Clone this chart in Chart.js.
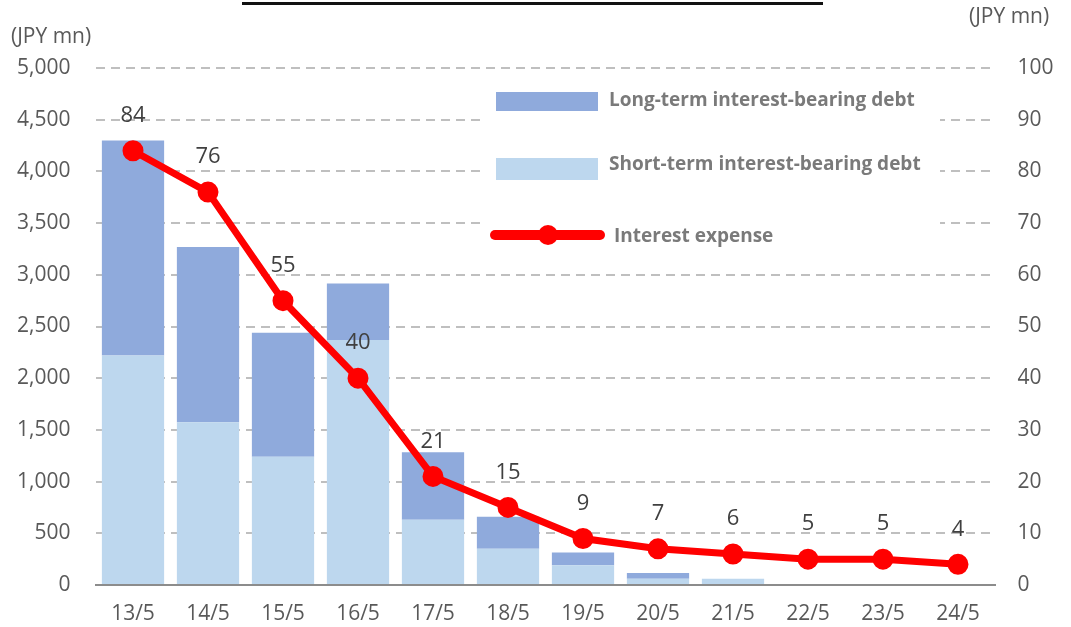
<!DOCTYPE html>
<html>
<head>
<meta charset="utf-8">
<script src="https://cdn.jsdelivr.net/npm/chart.js@4/dist/chart.umd.min.js"></script>
<style>
  body { margin: 0; background: #fff; }
  #wrap { position: relative; width: 1071px; height: 627px; }
  #titleLine { position: absolute; left: 242px; top: 2px; width: 581px; height: 3px; background: #111; }
</style>
</head>
<body>
<div id="wrap">
  <canvas id="debtChart" width="1071" height="627"></canvas>
  <div id="titleLine"></div>
</div>
<script>
// Data
const periods = ['13/5', '14/5', '15/5', '16/5', '17/5', '18/5', '19/5', '20/5', '21/5', '22/5', '23/5', '24/5'];
const longTermDebt = [2080, 1695, 1200, 545, 655, 310, 125, 55, 0, 0, 0, 0];
const shortTermDebt = [2220, 1575, 1240, 2370, 630, 350, 190, 60, 60, 0, 0, 0];
const interestExpense = [84, 76, 55, 40, 21, 15, 9, 7, 6, 5, 5, 4];
const leftTicks = [0, 500, 1000, 1500, 2000, 2500, 3000, 3500, 4000, 4500, 5000];
const rightTicks = [0, 10, 20, 30, 40, 50, 60, 70, 80, 90, 100];
const unitLabel = '(JPY mn)';

const textGray = '#595959';
const fontFamily = '"Open Sans", "DejaVu Sans", sans-serif';

// labels above the line points
const pointLabels = {
    id: 'pointLabels',
    afterDatasetsDraw(chart) {
        const ctx = chart.ctx;
        const meta = chart.getDatasetMeta(2);
        ctx.save();
        ctx.font = '22px ' + fontFamily;
        ctx.fillStyle = '#404040';
        ctx.textAlign = 'center';
        ctx.textBaseline = 'middle';
        meta.data.forEach(function(pt, i) {
            ctx.fillText(String(interestExpense[i]), pt.x, pt.y - 35);
        });
        ctx.restore();
    }
};

// legend box inside the plot + unit labels
const customLegend = {
    id: 'customLegend',
    afterDraw(chart) {
        const ctx = chart.ctx;
        ctx.save();
        ctx.fillStyle = '#ffffff';
        ctx.fillRect(482, 76, 458, 190);

        ctx.fillStyle = '#8faadc';
        ctx.fillRect(496, 92, 102, 19);
        ctx.fillStyle = '#bdd7ee';
        ctx.fillRect(496, 158, 102, 22);

        ctx.strokeStyle = '#ff0000';
        ctx.lineWidth = 10;
        ctx.lineCap = 'round';
        ctx.beginPath();
        ctx.moveTo(495, 235);
        ctx.lineTo(600, 235);
        ctx.stroke();
        ctx.fillStyle = '#ff0000';
        ctx.beginPath();
        ctx.arc(548, 235, 10, 0, Math.PI * 2);
        ctx.fill();

        ctx.font = 'bold 19px ' + fontFamily;
        ctx.fillStyle = '#7a7a7a';
        ctx.textAlign = 'left';
        ctx.textBaseline = 'middle';
        ctx.fillText('Long-term interest-bearing debt', 609, 101);
        ctx.fillText('Short-term interest-bearing debt', 609, 165);
        ctx.fillText('Interest expense', 614, 237);

        ctx.font = '21px ' + fontFamily;
        ctx.fillStyle = textGray;
        ctx.textAlign = 'left';
        ctx.fillText(unitLabel, 11, 37);
        ctx.fillText(unitLabel, 969, 17);
        ctx.restore();
    }
};

const ctxDebt = document.getElementById('debtChart').getContext('2d');
const debtChart = new Chart(ctxDebt, {
    type: 'bar',
    data: {
        labels: periods,
        datasets: [{
            label: 'Short-term interest-bearing debt',
            data: shortTermDebt,
            backgroundColor: '#bdd7ee',
            stack: 'debt',
            yAxisID: 'y',
            order: 2
        }, {
            label: 'Long-term interest-bearing debt',
            data: longTermDebt,
            backgroundColor: '#8faadc',
            stack: 'debt',
            yAxisID: 'y',
            order: 2
        }, {
            label: 'Interest expense',
            type: 'line',
            data: interestExpense,
            yAxisID: 'y1',
            borderColor: '#ff0000',
            backgroundColor: '#ff0000',
            pointBackgroundColor: '#ff0000',
            pointBorderColor: '#ff0000',
            borderWidth: 7,
            pointRadius: 7,
            tension: 0,
            fill: false,
            order: 1
        }]
    },
    options: {
        responsive: false,
        animation: false,
        layout: { padding: { top: 68, left: 0, right: 0, bottom: 0 } },
        datasets: {
            bar: { barPercentage: 0.83, categoryPercentage: 1 }
        },
        scales: {
            x: {
                stacked: true,
                grid: { display: false },
                border: { display: true, color: '#8c8c8c', width: 2 },
                ticks: {
                    color: textGray,
                    font: { size: 21, family: fontFamily },
                    padding: 8,
                    maxRotation: 0
                },
                afterFit: function(scale) { scale.height = 42; }
            },
            y: {
                position: 'left',
                stacked: true,
                min: 0,
                max: 5000,
                afterBuildTicks: function(scale) {
                    scale.ticks = leftTicks.map(function(v) { return { value: v }; });
                },
                grid: { color: '#bfbfbf', lineWidth: 2, drawTicks: false },
                border: { display: false, dash: [9, 6] },
                ticks: {
                    color: textGray,
                    font: { size: 21, family: fontFamily },
                    padding: 25,
                    callback: function(v) { return v.toLocaleString('en-US'); }
                },
                afterFit: function(scale) { scale.width = 95.5; }
            },
            y1: {
                position: 'right',
                min: 0,
                max: 100,
                afterBuildTicks: function(scale) {
                    scale.ticks = rightTicks.map(function(v) { return { value: v }; });
                },
                grid: { display: false, drawTicks: false },
                border: { display: false },
                ticks: {
                    color: textGray,
                    font: { size: 21, family: fontFamily },
                    padding: 22
                },
                afterFit: function(scale) { scale.width = 75.5; }
            }
        },
        plugins: {
            legend: { display: false },
            tooltip: { enabled: false }
        }
    },
    plugins: [pointLabels, customLegend]
});
</script>
</body>
</html>
